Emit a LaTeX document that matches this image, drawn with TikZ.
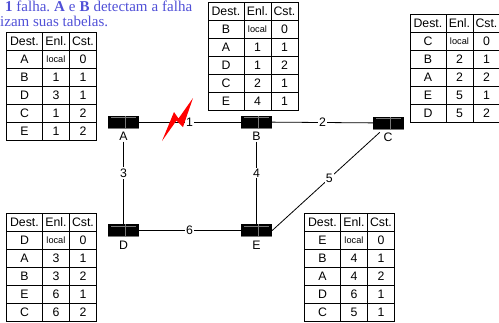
\documentclass[tikz,border=0pt]{standalone}
\usepackage{fontspec}
\setmainfont{Liberation Serif}
\newfontfamily\tabfont{Liberation Sans}
\usetikzlibrary{matrix}
\definecolor{headblue}{RGB}{80,80,215}
\definecolor{routergray}{RGB}{120,120,120}
\tikzset{
  x=1bp,y=-1bp,
  routertable/.style={matrix of nodes, anchor=north west, inner sep=0pt, outer sep=0pt,
    row sep=-0.9bp, column sep=-0.9bp,
    nodes={draw=black, line width=0.9bp, inner sep=0pt, outer sep=0pt, minimum height=18bp, anchor=center,
      font=\tabfont\fontsize{12.3bp}{12bp}\selectfont, text=black},
    column 1/.style={nodes={minimum width=36bp}},
    column 2/.style={nodes={minimum width=27bp}},
    column 3/.style={nodes={minimum width=27bp}}},
  small/.style={font=\tabfont\fontsize{9.2bp}{9bp}\selectfont},
  router/.style={fill=black, minimum width=31bp, minimum height=12.5bp, inner sep=0pt,
    path picture={
      \draw[routergray,line width=0.7bp] ([xshift=3bp,yshift=-2bp]path picture bounding box.north west) -- ([xshift=-3bp,yshift=-2bp]path picture bounding box.north east);
      \draw[routergray,line width=0.8bp] (path picture bounding box.south west) -- (path picture bounding box.south east);
      \draw[routergray,line width=0.8bp] ([xshift=2bp]path picture bounding box.north) -- ([xshift=2bp]path picture bounding box.south);
    }},
  routerlabel/.style={font=\tabfont\fontsize{12.3bp}{12bp}\selectfont, inner sep=0pt, minimum width=16bp, minimum height=10bp, text=black},
  link/.style={draw=black, line width=0.8bp},
  linklabel/.style={font=\tabfont\fontsize{12.3bp}{12bp}\selectfont, inner sep=1.2bp, fill=white, text=black},
  headline/.style={anchor=base west, inner sep=0pt, text=headblue, font=\fontsize{15bp}{15bp}\selectfont},
  bolt/.style={fill=red, draw=none}
}
\begin{document}
\begin{tikzpicture}
\useasboundingbox (0,0) rectangle (499,322);
\node[headline] (headA) at (5,11) {\makebox[187bp][s]{\textbf{1} falha.\hfill\ \textbf{A}\hfill\ e\hfill\ \textbf{B}\hfill\ detectam\hfill\ a\hfill\ falha}};
\node[headline] (headB) at (0,26.7) {izam suas tabelas.};

\node[router] (A) at (123.5,122) {};
\node[router] (B) at (256.5,122) {};
\node[router] (C) at (388.5,123) {};
\node[router] (D) at (123.5,230.5) {};
\node[router] (E) at (256.5,230.5) {};
\node[routerlabel] (Alab) at (123.5,136.5) {A};
\node[routerlabel] (Blab) at (256.5,136.5) {B};
\node[routerlabel] (Clab) at (388,137.5) {C};
\node[routerlabel] (Dlab) at (123.5,245) {D};
\node[routerlabel] (Elab) at (256.5,245) {E};

\draw[link] (A) -- node[linklabel,pos=.495] {1} (B);
\draw[link] (B) -- node[linklabel] {2} (C);
\draw[link] (Alab) -- node[linklabel,pos=.38] {3} (D);
\draw[link] (Blab) -- node[linklabel,pos=.38] {4} (E);
\draw[link] (E.east) -- node[linklabel,pos=.53] {5} (Clab.north west);
\draw[link] (D) -- node[linklabel,pos=.495] {6} (E);

\fill[bolt] (162,141) -- (174,112) -- (178.5,118.5) -- (193,98) -- (183,127) -- (176.5,120.5) -- cycle;

\matrix[routertable] (tA) at (6,32) {
Dest. & Enl. & Cst. \\
A & |[small]| local & 0 \\
B & 1 & 1 \\
D & 3 & 1 \\
C & 1 & 2 \\
E & 1 & 2 \\
};
\matrix[routertable] (tB) at (207.5,2) {
Dest. & Enl. & Cst. \\
B & |[small]| local & 0 \\
A & 1 & 1 \\
D & 1 & 2 \\
C & 2 & 1 \\
E & 4 & 1 \\
};
\matrix[routertable] (tC) at (409.5,14) {
Dest. & Enl. & Cst. \\
C & |[small]| local & 0 \\
B & 2 & 1 \\
A & 2 & 2 \\
E & 5 & 1 \\
D & 5 & 2 \\
};
\matrix[routertable] (tD) at (6,212.5) {
Dest. & Enl. & Cst. \\
D & |[small]| local & 0 \\
A & 3 & 1 \\
B & 3 & 2 \\
E & 6 & 1 \\
C & 6 & 2 \\
};
\matrix[routertable] (tE) at (304,212.5) {
Dest. & Enl. & Cst. \\
E & |[small]| local & 0 \\
B & 4 & 1 \\
A & 4 & 2 \\
D & 6 & 1 \\
C & 5 & 1 \\
};
\end{tikzpicture}
\end{document}
